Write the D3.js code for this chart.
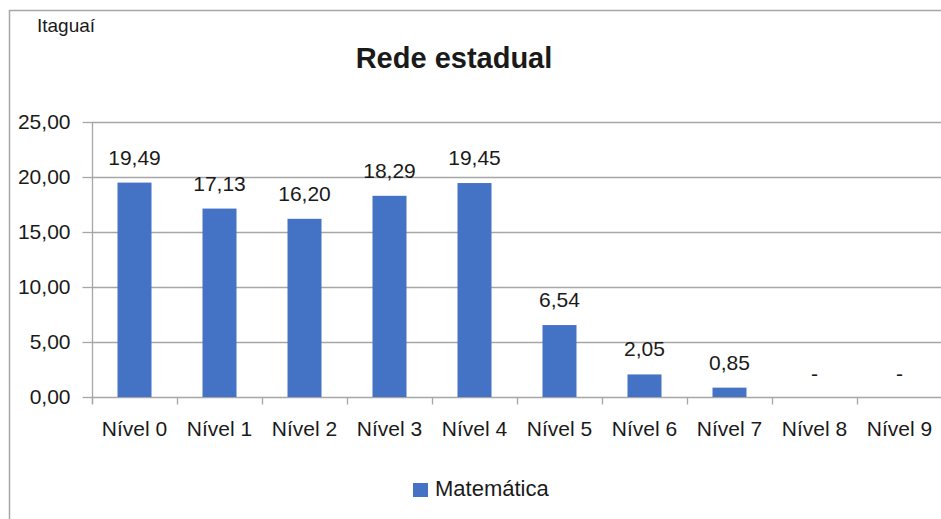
<!DOCTYPE html>
<html>
<head>
<meta charset="utf-8">
<script src="https://cdn.jsdelivr.net/npm/d3@7"></script>
<style>
  body { margin: 0; background: #fff; }
  svg { display: block; font-family: "Liberation Sans", Arial, sans-serif; }
</style>
</head>
<body>
<div id="chart"></div>
<script>
// chart data
var categories = ["Nível 0", "Nível 1", "Nível 2", "Nível 3", "Nível 4",
                  "Nível 5", "Nível 6", "Nível 7", "Nível 8", "Nível 9"];
var matematica = [19.49, 17.13, 16.20, 18.29, 19.45, 6.54, 2.05, 0.85, null, null];
var yTicks = [0, 5, 10, 15, 20, 25];
var seriesName = "Matemática";
var chartTitle = "Rede estadual";
var cityName = "Itaguaí";

(function(){
  var width = 941, height = 519;
  var margin = {top: 122, left: 92, bottom: 397};
  var plotRight = 942;
  var textColor = "#1a1a1a";

  var svg = d3.select("#chart").append("svg")
    .attr("width", width)
    .attr("height", height);

  // outer frame (only top and left are visible in the crop)
  svg.append("path")
    .attr("d", "M9.5," + height + "V10.5H" + width)
    .attr("fill", "none")
    .attr("stroke", "#a6a6a6")
    .attr("stroke-width", 1.5);

  var x = d3.scaleBand()
    .domain(categories)
    .range([margin.left, plotRight])
    .paddingInner(0.6)
    .paddingOuter(0.3);

  var y = d3.scaleLinear()
    .domain([0, 25])
    .range([margin.bottom, margin.top]);

  var fmt = function(v){ return d3.format(".2f")(v).replace(".", ","); };

  // gridlines
  svg.append("g").selectAll("line")
    .data(yTicks.filter(function(d){ return d > 0; }))
    .enter().append("line")
    .attr("x1", margin.left).attr("x2", width)
    .attr("y1", function(d){ return Math.round(y(d)) + 0.5; })
    .attr("y2", function(d){ return Math.round(y(d)) + 0.5; })
    .attr("stroke", "#a6a6a6")
    .attr("stroke-width", 1.3);

  // y axis
  var yAxis = svg.append("g")
    .attr("transform", "translate(" + (margin.left + 0.5) + ",0)")
    .call(d3.axisLeft(y).tickValues(yTicks).tickFormat(fmt).tickSize(10).tickPadding(12));
  yAxis.selectAll("text")
    .attr("font-size", 21)
    .attr("font-family", "Liberation Sans, Arial, sans-serif")
    .attr("fill", textColor);
  yAxis.select(".domain").attr("stroke", "#a6a6a6").attr("stroke-width", 1.3)
    .attr("d", "M0," + margin.top + "V" + (margin.bottom + 7));
  yAxis.selectAll(".tick line").attr("stroke", "#a6a6a6").attr("stroke-width", 1.3);

  // x axis
  var xAxis = svg.append("g")
    .attr("transform", "translate(0," + (margin.bottom + 0.5) + ")");
  xAxis.append("line")
    .attr("x1", margin.left).attr("x2", width)
    .attr("stroke", "#a6a6a6").attr("stroke-width", 1.3);
  var step = x.step();
  xAxis.selectAll(".xtick")
    .data(d3.range(categories.length + 1))
    .enter().append("line")
    .attr("x1", function(i){ return Math.round(margin.left + i * step) + 0.5; })
    .attr("x2", function(i){ return Math.round(margin.left + i * step) + 0.5; })
    .attr("y1", 0).attr("y2", 7)
    .attr("stroke", "#a6a6a6").attr("stroke-width", 1.3);
  xAxis.selectAll(".xlabel")
    .data(categories)
    .enter().append("text")
    .attr("x", function(d){ return x(d) + x.bandwidth() / 2; })
    .attr("y", 38)
    .attr("text-anchor", "middle")
    .attr("font-size", 21)
    .attr("fill", textColor)
    .text(function(d){ return d; });

  // bars
  svg.append("g").selectAll("rect")
    .data(matematica)
    .enter().append("rect")
    .attr("x", function(d, i){ return x(categories[i]); })
    .attr("width", x.bandwidth())
    .attr("y", function(d){ return y(d || 0); })
    .attr("height", function(d){ return y(0) - y(d || 0); })
    .attr("fill", "#4472c4");

  // value labels
  svg.append("g").selectAll("text")
    .data(matematica)
    .enter().append("text")
    .attr("x", function(d, i){ return x(categories[i]) + x.bandwidth() / 2; })
    .attr("y", function(d){ return y(d || 0) - (d == null ? 16 : 18); })
    .attr("text-anchor", "middle")
    .attr("font-size", 21)
    .attr("fill", textColor)
    .text(function(d){ return d == null ? "-" : fmt(d); });

  // title
  svg.append("text")
    .attr("x", 454).attr("y", 68)
    .attr("text-anchor", "middle")
    .attr("font-size", 29)
    .attr("font-weight", "bold")
    .attr("fill", textColor)
    .text(chartTitle);

  // city name
  svg.append("text")
    .attr("x", 37).attr("y", 32)
    .attr("font-size", 19)
    .attr("font-family", "Liberation Sans Narrow, Arial Narrow, Liberation Sans, sans-serif")
    .attr("fill", textColor)
    .text(cityName);

  // legend
  var legend = svg.append("g").attr("transform", "translate(413,483)");
  legend.append("rect")
    .attr("width", 15).attr("height", 14)
    .attr("fill", "#4472c4");
  legend.append("text")
    .attr("x", 22).attr("y", 13)
    .attr("font-size", 22)
    .attr("fill", textColor)
    .text(seriesName);
})();
</script>
</body>
</html>
